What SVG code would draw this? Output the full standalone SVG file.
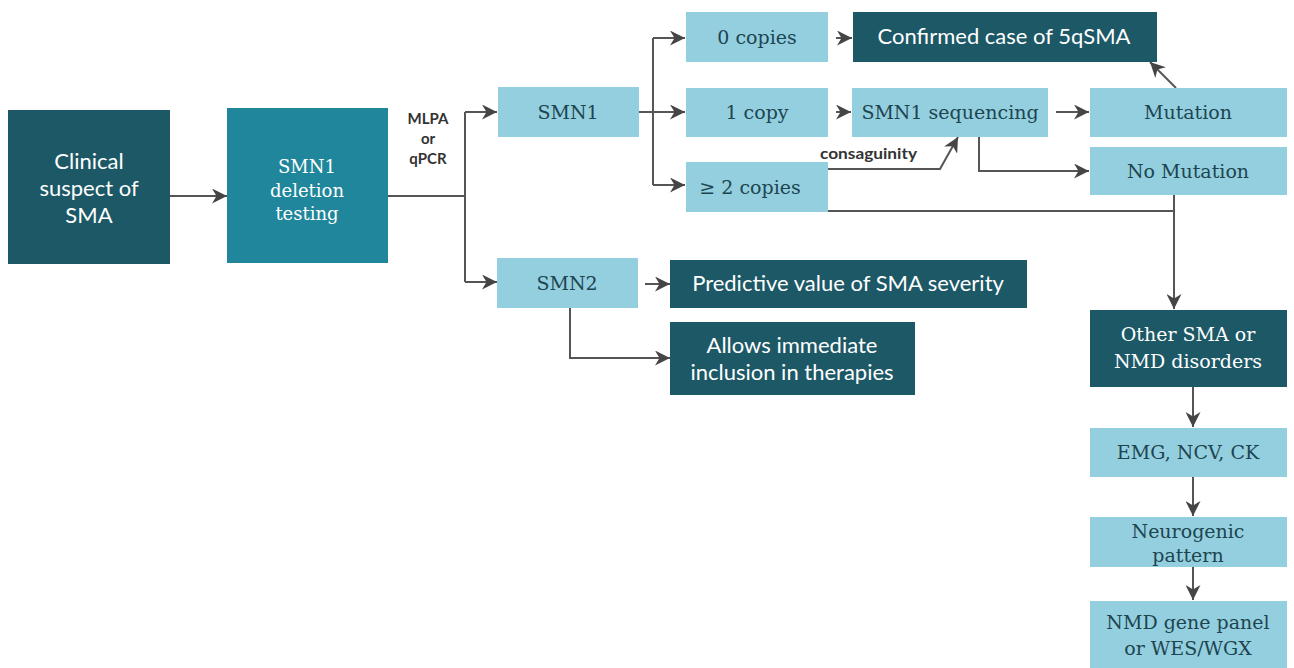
<svg xmlns="http://www.w3.org/2000/svg" width="1294" height="668" viewBox="0 0 1294 668">
<defs>
<marker id="ah" viewBox="0 0 10 10" refX="10" refY="5" markerWidth="15" markerHeight="15" markerUnits="userSpaceOnUse" orient="auto">
<path d="M0,0 L10,5 L0,10 L3,5 Z" fill="#454545"/>
</marker>
<style>
.dark{fill:#1c5866}
.mid{fill:#1f869b}
.light{fill:#94cfdf}
.sw{font-family:Lato,"Liberation Sans",sans-serif;fill:#ffffff;text-anchor:middle}
.rw{font-family:"DejaVu Serif","Liberation Serif",serif;fill:#ffffff;text-anchor:middle}
.rd{font-family:"DejaVu Serif","Liberation Serif",serif;fill:#1d4550;text-anchor:middle}
.lbl{font-family:Lato,"Liberation Sans",sans-serif;fill:#333333;font-weight:bold}
.c{fill:none;stroke:#555555;stroke-width:2}
.ca{fill:none;stroke:#555555;stroke-width:2;marker-end:url(#ah)}
</style>
</defs>
<rect width="1294" height="668" fill="#ffffff"/>
<g id="connectors">
<path class="ca" d="M170,196 H227"/>
<path class="c" d="M388,196 H465"/>
<path class="c" d="M465,112 V282"/>
<path class="ca" d="M465,112 H497"/>
<path class="ca" d="M465,282 H497"/>
<path class="c" d="M639,112 H653"/>
<path class="c" d="M653,38 V185"/>
<path class="ca" d="M653,38 H685"/>
<path class="ca" d="M653,112 H685"/>
<path class="ca" d="M653,185 H685"/>
<path class="ca" d="M836,38 H852"/>
<path class="ca" d="M836,112 H851"/>
<path class="ca" d="M1056,112 H1089"/>
<path class="ca" d="M1176,88 L1150,62"/>
<path class="ca" d="M828,169 H940 L958,137"/>
<path class="ca" d="M979,136 V171 H1089"/>
<path class="c" d="M828,211 H1174"/>
<path class="ca" d="M1174,195 V309"/>
<path class="ca" d="M645,284 H670"/>
<path class="ca" d="M570,308 V358 H670"/>
<path class="ca" d="M1193,387 V427"/>
<path class="ca" d="M1193,477 V516"/>
<path class="ca" d="M1193,567 V600"/>
<text class="lbl" font-size="15" x="428" y="124" text-anchor="middle">MLPA</text>
<text class="lbl" font-size="15" x="428" y="144" text-anchor="middle">or</text>
<text class="lbl" font-size="15" x="428" y="164" text-anchor="middle">qPCR</text>
<text class="lbl" font-size="15" x="820" y="159" textLength="97" lengthAdjust="spacingAndGlyphs" font-weight="normal">consaguinity</text>
</g>
<g id="clinical">
<rect class="dark" x="8" y="110" width="162" height="154"/>
<text class="sw" font-size="22"><tspan x="89" y="169">Clinical</tspan><tspan x="89" y="196">suspect of</tspan><tspan x="89" y="223">SMA</tspan></text>
</g>
<g id="deletion">
<rect class="mid" x="227" y="108" width="161" height="155"/>
<text class="rw" font-size="18"><tspan x="307" y="173">SMN1</tspan><tspan x="307" y="197">deletion</tspan><tspan x="307" y="220">testing</tspan></text>
</g>
<g id="smn1">
<rect class="light" x="498" y="87" width="141" height="50"/>
<text class="rd" font-size="19" x="568" y="119">SMN1</text>
</g>
<g id="smn2">
<rect class="light" x="497" y="258" width="141" height="50"/>
<text class="rd" font-size="19" x="567" y="290">SMN2</text>
</g>
<g id="copies0">
<rect class="light" x="686" y="12" width="142" height="50"/>
<text class="rd" font-size="19" x="757" y="44">0 copies</text>
</g>
<g id="copies1">
<rect class="light" x="686" y="88" width="142" height="49"/>
<text class="rd" font-size="19" x="757" y="119">1 copy</text>
</g>
<g id="copies2">
<rect class="light" x="686" y="162" width="142" height="50"/>
<text class="rd" font-size="19" x="750" y="194">≥ 2 copies</text>
</g>
<g id="confirmed">
<rect class="dark" x="853" y="12" width="304" height="50"/>
<text class="sw" font-size="22" x="1004" y="44">Confirmed case of 5qSMA</text>
</g>
<g id="sequencing">
<rect class="light" x="852" y="88" width="196" height="49"/>
<text class="rd" font-size="19" x="950" y="119">SMN1 sequencing</text>
</g>
<g id="mutation">
<rect class="light" x="1090" y="88" width="197" height="49"/>
<text class="rd" font-size="19" x="1188" y="119">Mutation</text>
</g>
<g id="nomutation">
<rect class="light" x="1090" y="147" width="197" height="48"/>
<text class="rd" font-size="19" x="1188" y="178">No Mutation</text>
</g>
<g id="predictive">
<rect class="dark" x="670" y="260" width="357" height="48"/>
<text class="sw" font-size="22" x="848" y="291">Predictive value of SMA severity</text>
</g>
<g id="allows">
<rect class="dark" x="670" y="322" width="245" height="73"/>
<text class="sw" font-size="22"><tspan x="792" y="353">Allows immediate</tspan><tspan x="792" y="380">inclusion in therapies</tspan></text>
</g>
<g id="other">
<rect class="dark" x="1090" y="310" width="197" height="77"/>
<text class="rw" font-size="19"><tspan x="1188" y="341">Other SMA or</tspan><tspan x="1188" y="368">NMD disorders</tspan></text>
</g>
<g id="emg">
<rect class="light" x="1090" y="428" width="197" height="49"/>
<text class="rd" font-size="19" x="1188" y="459">EMG, NCV, CK</text>
</g>
<g id="neurogenic">
<rect class="light" x="1090" y="517" width="197" height="50"/>
<text class="rd" font-size="19"><tspan x="1188" y="538">Neurogenic</tspan><tspan x="1188" y="562">pattern</tspan></text>
</g>
<g id="panel">
<rect class="light" x="1090" y="601" width="197" height="67"/>
<text class="rd" font-size="19"><tspan x="1188" y="629">NMD gene panel</tspan><tspan x="1188" y="655">or WES/WGX</tspan></text>
</g>
</svg>
